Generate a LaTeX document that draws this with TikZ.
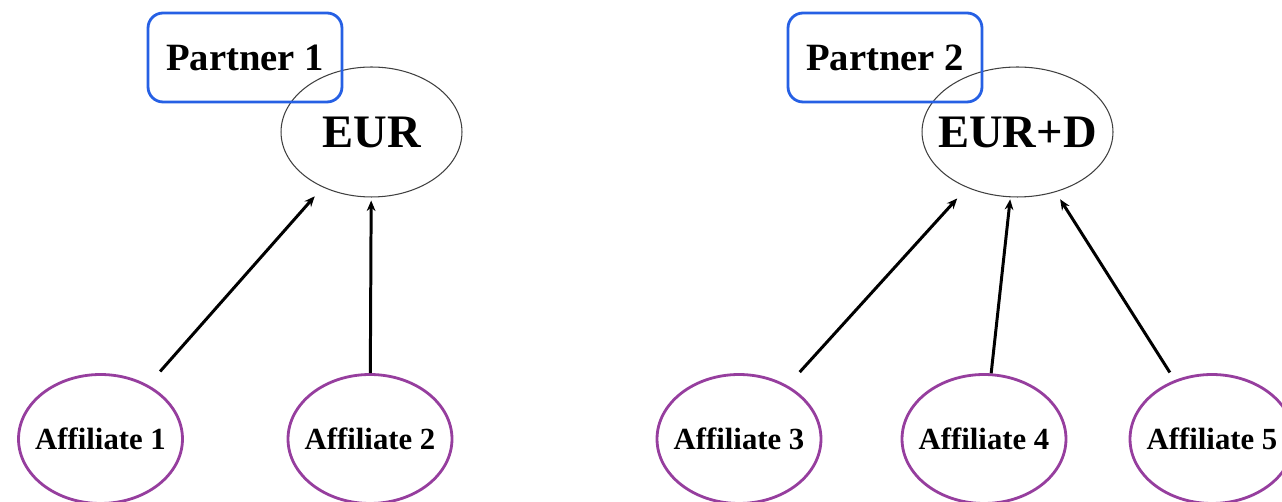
\documentclass[tikz,border=0pt]{standalone}
\usepackage{fontspec}
\setmainfont{Liberation Serif}
\usepackage{tikz}
\usetikzlibrary{positioning,shapes.geometric,arrows.meta}

\definecolor{partnerblue}{RGB}{38,96,228}
\definecolor{affpurple}{RGB}{150,62,158}

\tikzset{
  partner/.style={draw=partnerblue, line width=1.6pt, rounded corners=0.3cm,
    minimum width=3.88cm, minimum height=1.78cm, inner sep=0pt,
    font=\fontsize{22}{24}\selectfont\bfseries},
  currency/.style={draw=black!75, ellipse, line width=0.6pt, inner xsep=-0.4cm,
    inner ysep=0pt, minimum height=2.6cm,
    font=\fontsize{26.5}{28}\selectfont\bfseries},
  affiliate/.style={draw=affpurple, ellipse, line width=1.6pt, inner xsep=-0.25cm,
    inner ysep=0pt, minimum width=3.28cm, minimum height=2.58cm,
    font=\fontsize{17.5}{20}\selectfont\bfseries},
  link/.style={-{Stealth[length=6pt,width=5pt]}, line width=1.7pt}
}

\begin{document}
\begin{tikzpicture}[x=0.02cm,y=-0.02cm]
            \useasboundingbox (0,0) rectangle (1282,502);
            \clip (0,0) rectangle (1282,502);
            % left group
            \node [currency, minimum width=3.62cm] (eur) at (371.5,132) {EUR};
            \node [partner] (p1) at (245,57.5) {Partner 1};
            \node [affiliate] (a1) at (100.5,439) {Affiliate 1};
            \node [affiliate] (a2) at (370,439) {Affiliate 2};
            % right group
            \node [currency, minimum width=3.82cm] (eurd) at (1017.5,132) {EUR+D};
            \node [partner] (p2) at (885,57.5) {Partner 2};
            \node [affiliate] (a3) at (739,439) {Affiliate 3};
            \node [affiliate] (a4) at (984,439) {Affiliate 4};
            \node [affiliate] (a5) at (1212,439) {Affiliate 5};
            % arrows
            \draw [link, shorten <=0.36cm, shorten >=0.24cm](a1)--(eur);
            \draw [link, shorten >=0.06cm](a2)--(eur);
            \draw [link, shorten <=0.36cm, shorten >=0.29cm](a3)--(eurd);
            \draw [link, shorten >=0.04cm](a4)--(eurd);
            \draw [link, shorten <=0.18cm, shorten >=0.17cm](a5)--(eurd);
            \end{tikzpicture}
\end{document}
